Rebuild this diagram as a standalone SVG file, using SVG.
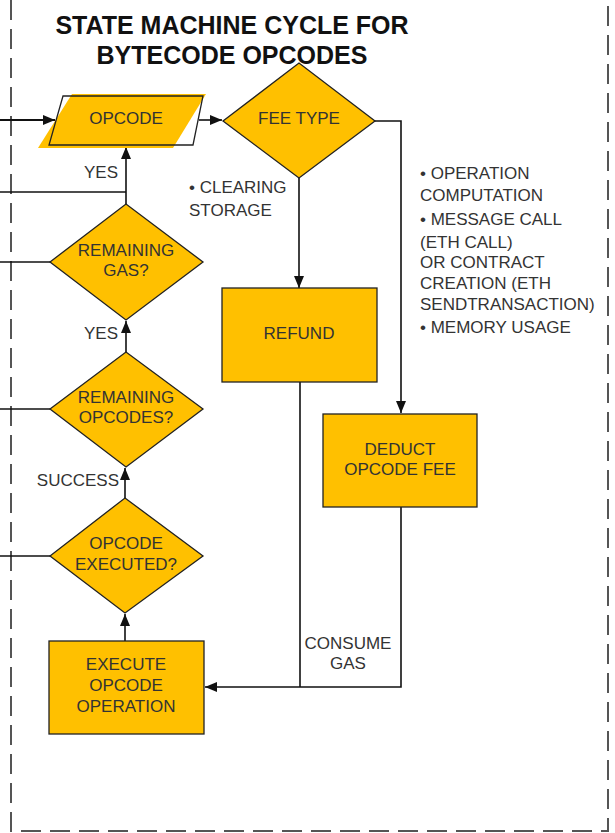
<svg xmlns="http://www.w3.org/2000/svg" width="615" height="833" viewBox="0 0 615 833">
<style>
.t{font-family:"Liberation Sans",Arial,sans-serif;font-size:17px;fill:#333;}
.c{text-anchor:middle;}
.r{text-anchor:end;}
.title{font-family:"Liberation Sans",Arial,sans-serif;font-size:25px;font-weight:bold;fill:#111;text-anchor:middle;}
.node{fill:#FFC000;stroke:#222;stroke-width:1.3;}
.ln{fill:none;stroke:#111;stroke-width:1.6;}
.arr{fill:none;stroke:#111;stroke-width:1.6;marker-end:url(#ah);}
</style>
<defs>
<marker id="ah" viewBox="0 0 12 10" refX="12" refY="5" markerWidth="12" markerHeight="10" markerUnits="userSpaceOnUse" orient="auto">
<path d="M0,0 L12,5 L0,10 z" fill="#111"/>
</marker>
</defs>
<rect width="615" height="833" fill="#fff"/>
<path d="M11,0 V831 H608 V0" fill="none" stroke="#555" stroke-width="2" stroke-dasharray="20 9"/>
<g id="title">
<text class="title" x="232" y="34">STATE MACHINE CYCLE FOR</text>
<text class="title" x="232" y="64">BYTECODE OPCODES</text>
</g>
<g id="connectors">
<line class="arr" x1="0" y1="120" x2="55" y2="120" style="stroke-width:2"/>
<line class="arr" x1="199" y1="120" x2="222" y2="120"/>
<polyline class="arr" points="375,121 401,121 401,413"/>
<line class="arr" x1="299" y1="178" x2="299" y2="288"/>
<line class="ln" x1="300" y1="382" x2="300" y2="687"/>
<polyline class="arr" points="401,507 401,687 205,687"/>
<line class="arr" x1="125" y1="641" x2="125" y2="614"/>
<line class="arr" x1="125" y1="498" x2="125" y2="468"/>
<line class="arr" x1="126" y1="352" x2="126" y2="321"/>
<line class="arr" x1="126" y1="204" x2="126" y2="147"/>
<line class="ln" x1="0" y1="192" x2="126" y2="192"/>
<line class="ln" x1="0" y1="262" x2="50" y2="262"/>
<line class="ln" x1="0" y1="409" x2="50" y2="409"/>
<line class="ln" x1="0" y1="556" x2="50" y2="556"/>
</g>
<g id="labels">
<text class="t r" x="118" y="178">YES</text>
<text class="t r" x="118" y="339">YES</text>
<text class="t r" x="119" y="486">SUCCESS</text>
<text class="t" x="189" y="193">• CLEARING</text>
<text class="t" x="189" y="216">STORAGE</text>
<text class="t c" x="348" y="649">CONSUME</text>
<text class="t c" x="348" y="669">GAS</text>
<text class="t" x="420" y="179">• OPERATION</text>
<text class="t" x="420" y="201">COMPUTATION</text>
<text class="t" x="420" y="225">• MESSAGE CALL</text>
<text class="t" x="420" y="248">(ETH CALL)</text>
<text class="t" x="420" y="268">OR CONTRACT</text>
<text class="t" x="420" y="289">CREATION (ETH</text>
<text class="t" x="420" y="310">SENDTRANSACTION)</text>
<text class="t" x="420" y="333">• MEMORY USAGE</text>
</g>
<g id="opcode">
<polygon points="72,94 206,94 173,148 38,148" fill="#FFC000"/>
<polygon points="63,96 203,96 193,145 49,145" fill="none" stroke="#222" stroke-width="1.3"/>
<text class="t c" x="126" y="124">OPCODE</text>
</g>
<g id="fee-type">
<polygon class="node" points="223,121 299,63 375,121 299,178"/>
<text class="t c" x="299" y="124">FEE TYPE</text>
</g>
<g id="refund">
<rect class="node" x="222" y="288" width="155" height="94"/>
<text class="t c" x="299" y="339">REFUND</text>
</g>
<g id="deduct">
<rect class="node" x="323" y="414" width="154" height="93"/>
<text class="t c" x="400" y="455">DEDUCT</text>
<text class="t c" x="400" y="475">OPCODE FEE</text>
</g>
<g id="remaining-gas">
<polygon class="node" points="50,262 126,204 203,262 126,320"/>
<text class="t c" x="126" y="256">REMAINING</text>
<text class="t c" x="126" y="276">GAS?</text>
</g>
<g id="remaining-opcodes">
<polygon class="node" points="50,409 126,352 203,409 126,467"/>
<text class="t c" x="126" y="403">REMAINING</text>
<text class="t c" x="126" y="423">OPCODES?</text>
</g>
<g id="opcode-executed">
<polygon class="node" points="50,556 125,498 203,556 125,613"/>
<text class="t c" x="126" y="549">OPCODE</text>
<text class="t c" x="126" y="570">EXECUTED?</text>
</g>
<g id="execute">
<rect class="node" x="49" y="641" width="155" height="93"/>
<text class="t c" x="126" y="670">EXECUTE</text>
<text class="t c" x="126" y="691">OPCODE</text>
<text class="t c" x="126" y="712">OPERATION</text>
</g>
</svg>
